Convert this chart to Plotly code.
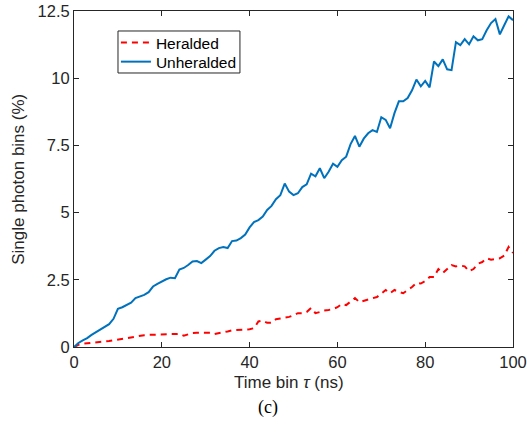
import plotly.graph_objects as go

time_ns = list(range(0, 101))

unheralded = [0, 0.15, 0.25, 0.33, 0.45, 0.55, 0.63, 0.72, 0.85, 1.05,
              1.42, 1.48, 1.56, 1.65, 1.82, 1.88, 1.94, 2.04, 2.25, 2.35,
              2.45, 2.52, 2.58, 2.56, 2.88, 2.94, 3.05, 3.18, 3.2, 3.12,
              3.25, 3.38, 3.58, 3.68, 3.72, 3.68, 3.94, 3.96, 4.05, 4.18,
              4.45, 4.65, 4.72, 4.85, 5.1, 5.25, 5.5, 5.65, 6.08, 5.78,
              5.65, 5.72, 5.95, 6.05, 6.45, 6.35, 6.65, 6.28, 6.52, 6.82,
              6.7, 6.95, 7.08, 7.55, 7.85, 7.45, 7.75, 7.95, 8.07, 8.0,
              8.55, 8.45, 8.14, 8.7, 9.14, 9.14, 9.26, 9.55, 9.95, 9.7,
              9.9, 9.66, 10.62, 10.45, 10.7, 10.33, 10.3, 11.34, 11.23, 11.45,
              11.26, 11.56, 11.41, 11.45, 11.78, 12.05, 12.2, 11.63, 11.97, 12.3,
              12.16]

heralded = [0, 0.08, 0.12, 0.14, 0.16, 0.19, 0.2, 0.21, 0.22, 0.25,
            0.28, 0.31, 0.34, 0.37, 0.4, 0.42, 0.44, 0.45, 0.46, 0.47,
            0.48, 0.48, 0.48, 0.48, 0.49, 0.42, 0.48, 0.52, 0.53, 0.53,
            0.53, 0.53, 0.48, 0.51, 0.53, 0.58, 0.62, 0.63, 0.63, 0.64,
            0.66, 0.7, 0.95, 0.98, 0.9, 0.9, 1.03, 1.06, 1.08, 1.12,
            1.18, 1.26, 1.26, 1.3, 1.45, 1.26, 1.3, 1.36, 1.38, 1.41,
            1.48, 1.6, 1.56, 1.7, 1.82, 1.67, 1.72, 1.78, 1.83, 1.86,
            1.98, 2.12, 2.0, 2.12, 2.05, 2.0, 2.12, 2.23, 2.38, 2.36,
            2.45, 2.6, 2.6, 2.9, 2.75, 2.92, 3.05, 3.0, 3.03, 3.0,
            2.82, 2.9, 3.1, 3.16, 3.3, 3.25, 3.28, 3.3, 3.4, 3.72,
            3.5]

x_ticks = [0, 20, 40, 60, 80, 100]
y_ticks = [0, 2.5, 5, 7.5, 10, 12.5]
y_tick_labels = ["0", "2.5", "5", "7.5", "10", "12.5"]

font_family = "Liberation Sans, Arial, sans-serif"
axis_color = "#262626"

fig = go.Figure()
fig.add_trace(go.Scatter(x=time_ns, y=heralded, mode="lines", name="Heralded",
                         legend="legend",
                         line=dict(color="#FF0000", width=2, dash="6px,5px")))
fig.add_trace(go.Scatter(x=time_ns, y=unheralded, mode="lines", name="Unheralded",
                         legend="legend2",
                         line=dict(color="#0072BD", width=2)))

axis_common = dict(showgrid=False, zeroline=False, showline=True, linecolor=axis_color,
                   linewidth=1, mirror="ticks", ticks="inside", ticklen=5,
                   tickcolor=axis_color, tickwidth=1, automargin=False,
                   tickfont=dict(family=font_family, size=16.5, color=axis_color))

fig.update_xaxes(range=[0, 100], tickvals=x_ticks, **axis_common)
fig.update_yaxes(range=[0, 12.5], tickvals=y_ticks, ticktext=y_tick_labels, **axis_common)

title_font = dict(family=font_family, size=17, color=axis_color)
fig.add_annotation(text="Time bin <i>τ</i> (ns)", xref="paper", yref="paper",
                   x=0.49, y=-0.107, showarrow=False, xanchor="center", yanchor="middle",
                   font=title_font)
fig.add_annotation(text="Single photon bins (%)", xref="paper", yref="paper",
                   x=-0.128, y=0.5, showarrow=False, xanchor="center", yanchor="middle",
                   textangle=-90, font=title_font)

fig.add_annotation(text="(c)", xref="paper", yref="paper", x=0.442, y=-0.179,
                   showarrow=False, xanchor="center", yanchor="middle",
                   font=dict(family="Liberation Serif, DejaVu Serif, serif", size=18, color="#000000"))

# legend frame
fig.add_shape(type="rect", xref="paper", yref="paper",
              x0=0.1002, x1=0.378, y0=0.8155, y1=0.9405,
              line=dict(color=axis_color, width=1), fillcolor="white", layer="below")

leg_font = dict(family=font_family, size=15.5, color="#000000")
fig.update_layout(
    width=527, height=438,
    margin=dict(l=74, r=14, t=11, b=91),
    paper_bgcolor="white", plot_bgcolor="rgba(0,0,0,0)",
    legend=dict(x=0.0955, y=0.905, xanchor="left", yanchor="middle",
                bgcolor="rgba(0,0,0,0)", borderwidth=0, font=leg_font, itemwidth=30),
    legend2=dict(x=0.0955, y=0.848, xanchor="left", yanchor="middle",
                 bgcolor="rgba(0,0,0,0)", borderwidth=0, font=leg_font, itemwidth=30),
    showlegend=True,
)

fig.write_html("out.html")
